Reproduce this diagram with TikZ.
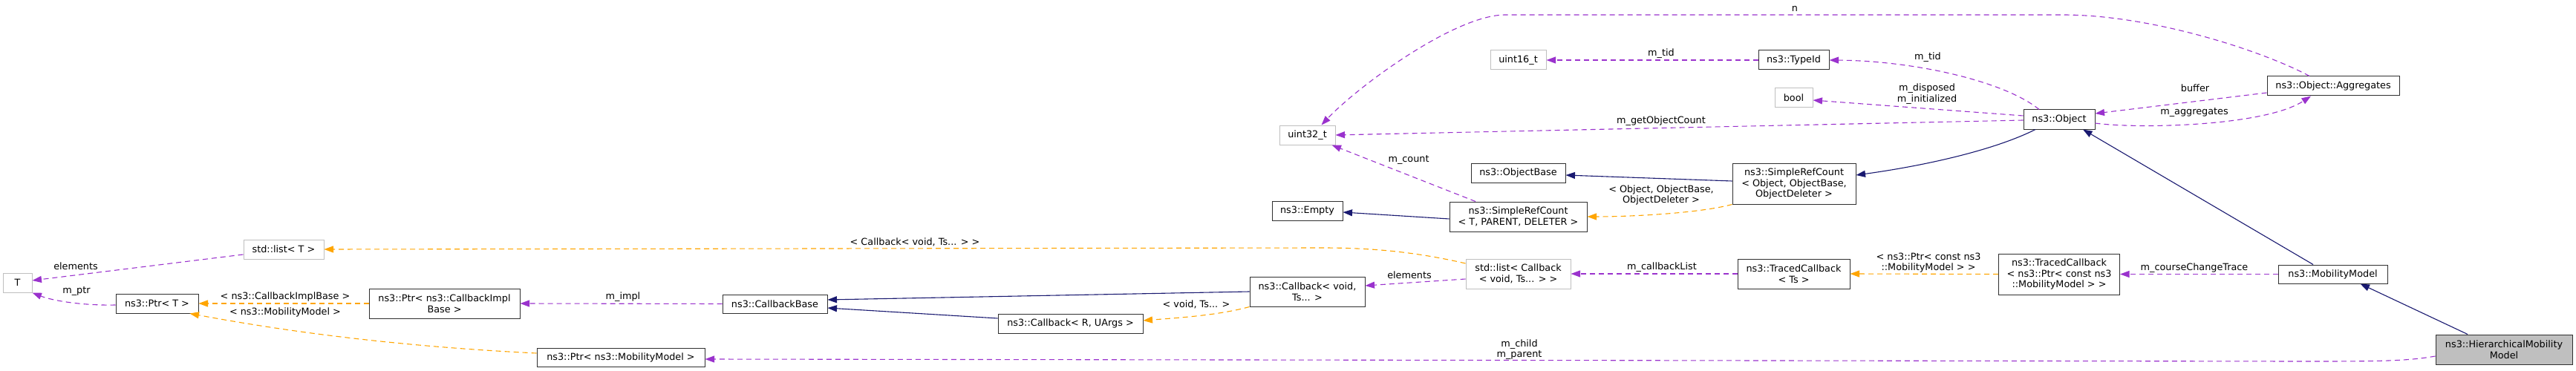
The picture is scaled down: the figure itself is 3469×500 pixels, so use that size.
\documentclass[tikz,border=0pt]{standalone}
\usepackage{fontspec}
\setmainfont{DejaVu Sans}
\usetikzlibrary{arrows.meta}
\definecolor{usecol}{HTML}{9A32CD}
\definecolor{tplcol}{HTML}{FFA500}
\definecolor{inhcol}{HTML}{191970}
\definecolor{extcol}{HTML}{BFBFBF}
\definecolor{selfcol}{HTML}{BFBFBF}
\definecolor{boxcol}{HTML}{303030}
\tikzset{
  every node/.style={font=\fontsize{12.8}{14.5}\selectfont, inner sep=0pt, align=center},
  cls/.style={draw=boxcol, line width=1pt, fill=white},
  ext/.style={draw=extcol, line width=1pt, fill=white},
  self/.style={draw=boxcol, line width=1pt, fill=selfcol},
  tipstyle/.style={-{Triangle[length=12.5pt,width=9pt]}},
  inh/.style={draw=inhcol, line width=1.1pt, tipstyle},
  use/.style={draw=usecol, line width=1.1pt, dash pattern=on 7pt off 5pt, tipstyle},
  tpl/.style={draw=tplcol, line width=1.1pt, dash pattern=on 7pt off 5pt, tipstyle},
  lbl/.style={}
}
\begin{document}
\begin{tikzpicture}[x=1pt,y=-1pt]
\useasboundingbox (0,0) rectangle (3469,500);
% nodes
\node[ext, minimum width=39pt, minimum height=26pt] (T) at (23.5,381) {T};
\node[ext, minimum width=108pt, minimum height=26pt] (LT) at (382,336) {std::list< T >};
\node[cls, minimum width=111pt, minimum height=26pt] (PT) at (211.5,409) {ns3::Ptr< T >};
\node[cls, minimum width=203pt, minimum height=40pt] (PCIB) at (598.5,409) {ns3::Ptr< ns3::CallbackImpl\\Base >};
\node[cls, minimum width=226pt, minimum height=25pt] (PMM) at (836,481.5) {ns3::Ptr< ns3::MobilityModel >};
\node[cls, minimum width=141pt, minimum height=25pt] (CB) at (1043.5,409.5) {ns3::CallbackBase};
\node[cls, minimum width=195pt, minimum height=26pt] (CbR) at (1441.5,436) {ns3::Callback< R, UArgs >};
\node[cls, minimum width=155pt, minimum height=40pt] (CbV) at (1760.5,393) {ns3::Callback< void,\\Ts... >};
\node[ext, minimum width=75pt, minimum height=26pt] (U32) at (1760.5,182) {uint32\_t};
\node[cls, minimum width=95pt, minimum height=26pt] (EMP) at (1760.5,284) {ns3::Empty};
\node[ext, minimum width=75pt, minimum height=26pt] (U16) at (2044.5,81) {uint16\_t};
\node[cls, minimum width=127pt, minimum height=26pt] (OB) at (2044.5,233) {ns3::ObjectBase};
\node[cls, minimum width=185pt, minimum height=40pt] (SRCT) at (2044.5,292) {ns3::SimpleRefCount\\< T, PARENT, DELETER >};
\node[ext, minimum width=141pt, minimum height=40pt] (LCb) at (2044.5,369) {std::list< Callback\\< void, Ts... > >};
\node[cls, minimum width=95pt, minimum height=26pt] (TID) at (2415.5,81) {ns3::TypeId};
\node[ext, minimum width=51pt, minimum height=26pt] (BOOL) at (2415.5,132) {bool};
\node[cls, minimum width=166pt, minimum height=55pt] (SRCO) at (2416,247.5) {ns3::SimpleRefCount\\< Object, ObjectBase,\\ObjectDeleter >};
\node[cls, minimum width=151pt, minimum height=40pt] (TCTs) at (2415.5,369) {ns3::TracedCallback\\< Ts >};
\node[cls, minimum width=96pt, minimum height=26pt] (OBJ) at (2773,161) {ns3::Object};
\node[cls, minimum width=163pt, minimum height=55pt] (TCP) at (2773,369.5) {ns3::TracedCallback\\< ns3::Ptr< const ns3\\::MobilityModel > >};
\node[cls, minimum width=178pt, minimum height=26pt] (AGG) at (3142,116) {ns3::Object::Aggregates};
\node[cls, minimum width=147pt, minimum height=25pt] (MM) at (3141.5,369.5) {ns3::MobilityModel};
\node[self, minimum width=184pt, minimum height=40pt] (HIER) at (3372,471) {ns3::HierarchicalMobility\\Model};
% inheritance
\draw[inh] ([xshift=-49pt]HIER.north) -- ([xshift=37pt]MM.south);
\draw[inh] ([xshift=-26.5pt]MM.north) -- ([xshift=32pt]OBJ.south);
\draw[inh] ([xshift=-32pt]OBJ.south) .. controls (2680,205) and (2580,225) .. ([yshift=11.5pt]SRCO.east);
\draw[inh] ([yshift=3.5pt]SRCO.west) -- ([yshift=-3pt]OB.east);
\draw[inh] ([yshift=-3pt]SRCT.west) -- ([yshift=-2pt]EMP.east);
\draw[inh] ([yshift=0pt]CbV.west) -- ([yshift=5.5pt]CB.east);
\draw[inh] ([yshift=7pt]CbR.west) -- ([yshift=-5.5pt]CB.east);
% usage
\draw[use] (MM.west) -- (TCP.east);
\draw[use] (TCTs.west) -- (LCb.east);
\draw[use] ([yshift=-7pt]LCb.west) -- ([yshift=8pt]CbV.east);
\draw[use] ([yshift=-9pt]HIER.west) .. controls (3240,487) and (3200,487) .. (3100,487) -- ([yshift=-2.5pt]PMM.east);
\draw[use] (CB.west) -- (PCIB.east);
\draw[use] ([yshift=-7pt]LT.west) -- ([yshift=3pt]T.east);
\draw[use] ([yshift=-2pt]PT.west) .. controls (110,412) and (70,405) .. (T.south east);
\draw[use] ([xshift=-57.5pt]SRCT.north) -- ([xshift=-5pt]U32.south east);
\draw[use] ([yshift=-1pt]OBJ.west) -- (U32.east);
\draw[use] ([yshift=5pt]OBJ.west) -- ([yshift=-3pt]BOOL.east);
\draw[use] ([xshift=-27pt]OBJ.north) .. controls (2700,110) and (2580,82) .. (TID.east);
\draw[use] (TID.west) -- (U16.east);
\draw[use] ([yshift=-5pt]OBJ.east) .. controls (2880,174) and (3050,170) .. ([xshift=-30pt]AGG.south);
\draw[use] ([yshift=-9pt]AGG.west) -- ([yshift=8pt]OBJ.east);
\draw[use] ([xshift=-32pt]AGG.north) .. controls (3050,70) and (2900,20) .. (2778,20) -- (2027,20) .. controls (1960,20) and (1830,115) .. ([xshift=19pt]U32.north);
% template instances
\draw[tpl] (TCP.west) -- (TCTs.east);
\draw[tpl] ([yshift=14pt]LCb.west) .. controls (1900,338) and (1840,334) .. (1780,334) -- (LT.east);
\draw[tpl] (PCIB.west) -- (PT.east);
\draw[tpl] ([yshift=5.5pt]PMM.west) .. controls (500,465) and (350,440) .. ([xshift=-12pt]PT.south east);
\draw[tpl] (CbV.south west) .. controls (1640,425) and (1590,428) .. ([yshift=4pt]CbR.east);
\draw[tpl] (SRCO.south west) .. controls (2290,287) and (2200,292) .. ([yshift=0pt]SRCT.east);
% labels
\node[lbl] (l1) at (2417,12) {n};
\node[lbl] (l2) at (2237,72) {m\_tid};
\node[lbl] (l3) at (2596,77) {m\_tid};
\node[lbl] (l4) at (2595,126.5) {m\_disposed\\m\_initialized};
\node[lbl] (l5) at (2237,163) {m\_getObjectCount};
\node[lbl] (l6) at (2956,119) {buffer};
\node[lbl] (l7) at (2955,152) {m\_aggregates};
\node[lbl] (l8) at (1897,216) {m\_count};
\node[lbl] (l9) at (2237,263) {< Object, ObjectBase,\\ObjectDeleter >};
\node[lbl] (l10) at (1232,326) {< Callback< void, Ts... > >};
\node[lbl] (l11) at (1898,371) {elements};
\node[lbl] (l12) at (2238,360) {m\_callbackList};
\node[lbl] (l13) at (2597,354) {< ns3::Ptr< const ns3\\::MobilityModel > >};
\node[lbl] (l14) at (2955,361) {m\_courseChangeTrace};
\node[lbl] (l15) at (1611,410) {< void, Ts... >};
\node[lbl] (l16) at (839,400) {m\_impl};
\node[lbl] (l17) at (384,400) {< ns3::CallbackImplBase >};
\node[lbl] (l18) at (384,421) {< ns3::MobilityModel >};
\node[lbl] (l19) at (102,359) {elements};
\node[lbl] (l20) at (103,393) {m\_ptr};
\node[lbl] (l21) at (2046,471) {m\_child\\m\_parent};
\end{tikzpicture}
\end{document}
